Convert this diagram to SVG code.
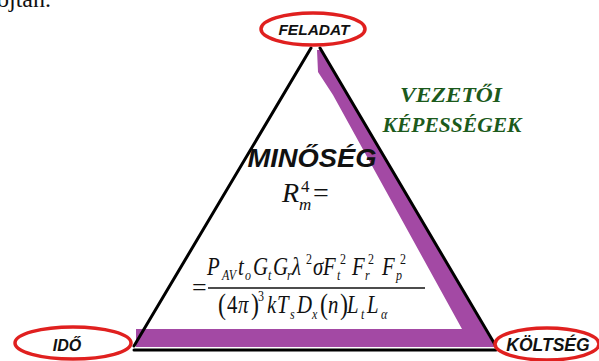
<svg xmlns="http://www.w3.org/2000/svg" width="599" height="361" viewBox="0 0 599 361">
<style>
.ell{fill:#fff;stroke:#e0201f;stroke-width:3.5}
.lbl{font-family:"Liberation Sans",Arial,sans-serif;font-weight:bold;font-style:italic;fill:#111;text-anchor:middle}
.edge{stroke:#000;stroke-width:3;fill:none;stroke-linecap:round}
.math{font-family:"Liberation Serif","Times New Roman",serif;font-style:italic;fill:#111}
.up{font-style:normal}
.sm{font-size:15px}
.grn{font-family:"Liberation Serif","Times New Roman",serif;font-weight:bold;font-style:italic;fill:#1c5a1c;text-anchor:middle;font-size:22px}
</style>
<rect width="599" height="361" fill="#fff"/>
<text x="-3" y="7" font-family="'Liberation Serif','Times New Roman',serif" font-size="24" fill="#111">ojtán.</text>
<g id="connectors">
<polygon points="317,50 321,50 495,347 136,347 136,329 462,329 333,95 318,72" fill="#a349a4"/>
<line class="edge" x1="311" y1="48" x2="134" y2="346"/>
<line class="edge" x1="320" y1="48" x2="497" y2="348"/>
<line class="edge" x1="134" y1="350" x2="496" y2="350"/>
</g>
<g id="feladat">
<ellipse class="ell" cx="313" cy="29" rx="52" ry="16"/>
<text class="lbl" x="314" y="35" font-size="15.5">FELADAT</text>
</g>
<g id="ido">
<ellipse class="ell" cx="73" cy="343" rx="58" ry="16"/>
<text class="lbl" x="67" y="351" font-size="16">IDŐ</text>
</g>
<g id="koltseg">
<ellipse class="ell" cx="547" cy="344" rx="52" ry="16"/>
<text class="lbl" x="548" y="351" font-size="17.5">KÖLTSÉG</text>
</g>
<g id="vezetoi">
<text class="grn" x="451" y="102" textLength="102" lengthAdjust="spacingAndGlyphs">VEZETŐI</text>
<text class="grn" x="452" y="132" textLength="139" lengthAdjust="spacingAndGlyphs">KÉPESSÉGEK</text>
</g>
<g id="minoseg">
<text class="lbl" x="312" y="167" font-size="25" textLength="129" lengthAdjust="spacingAndGlyphs">MINŐSÉG</text>
<text class="math" font-size="28"><tspan x="282" y="202">R</tspan><tspan class="up" x="313" y="202">=</tspan></text>
<text class="math up" x="301" y="192" font-size="17">4</text>
<text class="math" x="299" y="210" font-size="17">m</text>
<text class="math up" x="192" y="296" font-size="26">=</text>
<line x1="208" y1="288" x2="425" y2="288" stroke="#111" stroke-width="1.5"/>
<g transform="scale(0.8,1)">
<text class="math" font-size="26">
<tspan x="258.75" y="275">P</tspan><tspan class="sm" x="277.5" y="280">AV</tspan>
<tspan x="297.5" y="275">t</tspan><tspan class="sm" x="306.25" y="280">o</tspan>
<tspan x="316.25" y="275">G</tspan><tspan class="sm" x="335" y="280">t</tspan>
<tspan x="341.25" y="275">G</tspan><tspan class="sm" x="358.75" y="280">r</tspan>
<tspan x="365" y="275">λ</tspan><tspan class="sm up" x="382.5" y="264">2</tspan>
<tspan x="391.25" y="275">σ</tspan>
<tspan x="403.75" y="275">F</tspan><tspan class="sm" x="421.25" y="280">t</tspan><tspan class="sm up" x="425" y="264">2</tspan>
<tspan x="440" y="275">F</tspan><tspan class="sm" x="456.25" y="280">r</tspan><tspan class="sm up" x="460" y="264">2</tspan>
<tspan x="477.5" y="275">F</tspan><tspan class="sm" x="495" y="280">p</tspan><tspan class="sm up" x="500" y="264">2</tspan>
</text>
<text class="math" font-size="26">
<tspan class="up" x="272.5" y="314" font-size="30">(</tspan><tspan class="up" x="283.75" y="313">4</tspan><tspan x="297.5" y="313">π</tspan><tspan class="up" x="313.75" y="314" font-size="30">)</tspan><tspan class="sm up" x="322.5" y="301">3</tspan>
<tspan x="333.75" y="313">k</tspan>
<tspan x="346.25" y="313">T</tspan><tspan class="sm" x="362.5" y="319">s</tspan>
<tspan x="371.25" y="313">D</tspan><tspan class="sm" x="390" y="319">x</tspan>
<tspan class="up" x="400" y="314" font-size="30">(</tspan><tspan x="410" y="313">n</tspan><tspan class="up" x="425" y="314" font-size="30">)</tspan>
<tspan x="433.75" y="313">L</tspan><tspan class="sm" x="451.25" y="319">t</tspan>
<tspan x="458.75" y="313">L</tspan><tspan class="sm" x="476.25" y="319">α</tspan>
</text>
</g>
</g>
</svg>
